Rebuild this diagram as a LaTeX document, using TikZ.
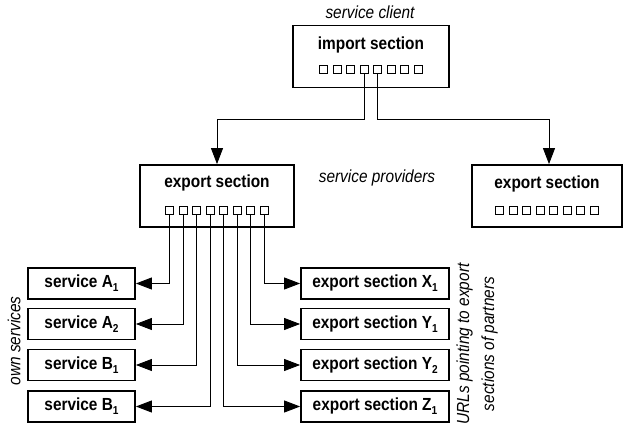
\documentclass[tikz,border=0pt]{standalone}
\usepackage{fontspec}
\setmainfont{Liberation Sans}[FakeStretch=0.88]
\usetikzlibrary{arrows.meta}

% lowered index digit for the box labels
\newcommand{\idx}[1]{\raisebox{-0.4ex}{\fontsize{11.5}{12}\selectfont #1}}

\begin{document}
\begin{tikzpicture}[x=1pt, y=-1pt,
	sect/.style = {draw, line width=1.8pt, minimum height=62pt, inner sep=0pt},
	box/.style = {draw, line width=1.8pt, minimum height=31pt, inner sep=0pt, font=\fontsize{17.5}{20}\selectfont\bfseries},
	title/.style = {inner sep=0pt, font=\fontsize{17.5}{20}\selectfont\bfseries},
	note/.style = {inner sep=0pt, font=\fontsize{17.5}{20}\selectfont\itshape},
	slot/.style = {draw, line width=0.8pt, minimum size=8pt, inner sep=0pt},
	link/.style = {line width=0.9pt, -{Triangle[length=16pt, width=12pt]}}]
	\useasboundingbox (0,0) rectangle (623,427);

	% client and the two providers
	\node[sect, minimum width=156pt] (imp) at (371,56.5) {};
	\node[title] (impt) at (371,45) {import section};
	\node[sect, minimum width=154pt] (exl) at (217,196) {};
	\node[title] (exlt) at (217,183) {export section};
	\node[sect, minimum width=150pt] (exr) at (547,196) {};
	\node[title] (exrt) at (547,184) {export section};
	\foreach \k in {1,...,8} {
		\node[slot] (i\k) at ({323.75+13.5*(\k-1)}, 69) {};
		\node[slot] (e\k) at ({169.75+13.5*(\k-1)}, 210) {};
		\node[slot] (r\k) at ({499.75+13.5*(\k-1)}, 210) {};
	}

	\node[note] (client) at (370,12) {service client};
	\node[note] (providers) at (377,178) {service providers};

	% own services (left) and partner sections (right)
	\node[box, minimum width=107pt] (sa1) at (81.5,283.5) {service A\idx{1}};
	\node[box, minimum width=107pt] (sa2) at (81.5,324) {service A\idx{2}};
	\node[box, minimum width=107pt] (sb1) at (81.5,365) {service B\idx{1}};
	\node[box, minimum width=107pt] (sb2) at (81.5,406.5) {service B\idx{1}};
	\node[box, minimum width=148pt] (xx1) at (375,283.5) {export section X\idx{1}};
	\node[box, minimum width=148pt] (xy1) at (375,324) {export section Y\idx{1}};
	\node[box, minimum width=148pt] (xy2) at (375,365) {export section Y\idx{2}};
	\node[box, minimum width=148pt] (xz1) at (375,406.5) {export section Z\idx{1}};

	\node[note, rotate=90] (own) at (14,341) {own services};
	\node[note, rotate=90, align=center, font=\fontsize{17.5}{25}\selectfont\itshape] (urls) at (477,344)
		{URLs pointing to export\\sections of partners};

	% connectors
	\coordinate (bus) at (0,119);
	\draw[link] (i4.south) -- (i4.south |- bus) -| (exl.north);
	\draw[link] (i5.south) -- (i5.south |- bus) -| ([xshift=2pt]exr.north);
	\foreach \s/\t in {e1/sa1, e2/sa2, e3/sb1, e4/sb2}
		\draw[link] (\s.south) |- (\t.east);
	\foreach \s/\t in {e5/xz1, e6/xy2, e7/xy1, e8/xx1}
		\draw[link] (\s.south) |- (\t.west);
\end{tikzpicture}
\end{document}
